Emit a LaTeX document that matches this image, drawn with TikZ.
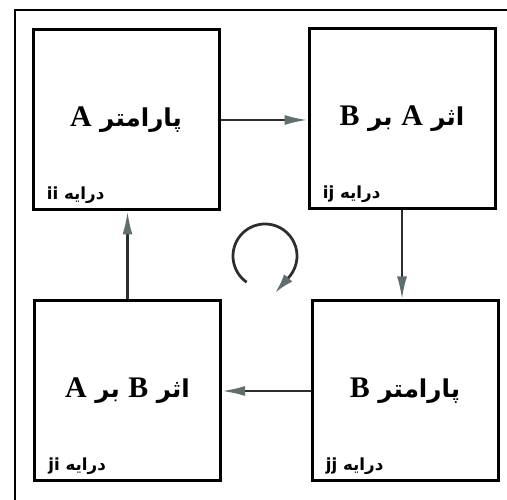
\documentclass[tikz,border=0pt]{standalone}
\usepackage{fontspec}
\usetikzlibrary{arrows.meta}
\TeXXeTstate=1
\newfontfamily\arabicfont[Script=Arabic]{DejaVu Sans}
\newfontfamily\latinfont{Liberation Serif}
\definecolor{linegray}{RGB}{45,45,45}
\definecolor{headgray}{RGB}{95,110,110}
\newcommand{\fa}[1]{\arabicfont\bfseries\beginR #1\endR}
\newcommand{\lat}[1]{{\latinfont\bfseries\fontsize{17}{19}\selectfont #1}}

\tikzset{
  cell/.style={draw, line width=0.6mm, minimum width=3.72cm, minimum height=3.6cm, font=\fontsize{14}{16}\selectfont},
  cellname/.style={anchor=south west, inner sep=0pt, font=\fontsize{9.5}{11}\selectfont},
  link/.style={>={Latex[length=4.6mm,width=2mm,color=headgray]}, ->, draw=linegray, line width=0.45mm}
}

\begin{document}
\begin{tikzpicture}

\clip (0,0) rectangle (10.14,10);

% frame
\draw [line width=0.5mm] (0.3,-1) |- (11,9.8);

% the four cells
\node [cell] (paramA) at (2.52,7.6) {\fa{پارامتر \lat{A}}};
\node [cell] (effAB) at (8.04,7.62) {\fa{اثر \lat{A} بر \lat{B}}};
\node [cell] (paramB) at (8.10,2.18) {\fa{پارامتر \lat{B}}};
\node [cell] (effBA) at (2.55,2.18) {\fa{اثر \lat{B} بر \lat{A}}};

\node [cellname] (ii) at ([shift={(0.3,0.15)}]paramA.south west) {\fa{درایه ii}};
\node [cellname] (ij) at ([shift={(0.3,0.15)}]effAB.south west) {\fa{درایه ij}};
\node [cellname] (jj) at ([shift={(0.3,0.15)}]paramB.south west) {\fa{درایه jj}};
\node [cellname] (ji) at ([shift={(0.3,0.15)}]effBA.south west) {\fa{درایه ji}};

% links
\draw [link] (paramA.east) -- (paramA.east -| effAB.west);
\draw [link] (effAB.south) -- (effAB.south |- paramB.north);
\draw [link] (paramB.west) -- (paramB.west -| effBA.east);
\draw [link] (effBA.north) -- (effBA.north |- paramA.south);

% cycle
\coordinate (turn) at (5.3,4.88);
\coordinate (turntip) at (5.5,4.14);
\draw [link, line width=0.55mm, >={Latex[length=4mm,width=2.2mm,color=headgray]}]
(turn) ++(235:0.64) arc [start angle=235, end angle=-38, radius=0.64] -- (turntip);

\end{tikzpicture}
\end{document}
